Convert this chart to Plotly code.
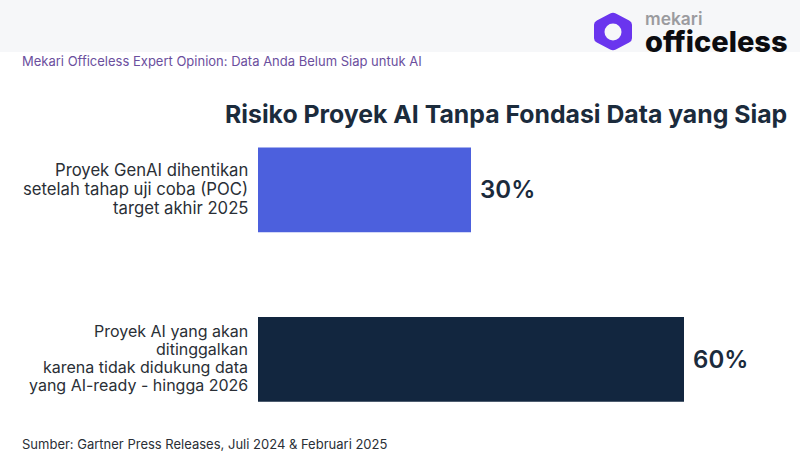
import plotly.graph_objects as go

category_lines = [
    ["Proyek GenAI dihentikan", "setelah tahap uji coba (POC)", "target akhir 2025"],
    ["Proyek AI yang akan", "ditinggalkan", "karena tidak didukung data", "yang AI-ready - hingga 2026"],
]
categories = [" ".join(lines) for lines in category_lines]
values = [30, 60]
value_labels = ["\u00a030%", "\u00a060%"]
bar_colors = ["#4c60dd", "#12263f"]

title_text = "Risiko Proyek AI Tanpa Fondasi Data yang Siap"
subtitle_text = "Mekari Officeless Expert Opinion: Data Anda Belum Siap untuk AI"
source_text = "Sumber: Gartner Press Releases, Juli 2024 & Februari 2025"

W = 800
H = 460
LEFT = 258
RIGHT = 45
TOP = 105
BOTTOM = 16
FONT = "Inter"


# page pixels to paper coordinates of the plot area
def px(x):
    return (x - LEFT) / (W - LEFT - RIGHT)


def py(y):
    return 1 - (y - TOP) / (H - TOP - BOTTOM)


fig = go.Figure()
fig.add_bar(
    x=values,
    y=categories,
    orientation="h",
    width=0.5,
    marker=dict(color=bar_colors, line=dict(width=0)),
    text=value_labels,
    textposition="outside",
    textfont=dict(family=FONT, size=24, color="#1b2b3c", weight=600),
    cliponaxis=False,
)

fig.update_layout(
    width=W,
    height=H,
    margin=dict(l=LEFT, r=RIGHT, t=TOP, b=BOTTOM),
    plot_bgcolor="white",
    paper_bgcolor="white",
    showlegend=False,
    font=dict(family=FONT, color="#1b2b3c"),
    xaxis=dict(range=[0, 70], visible=False, fixedrange=True),
    yaxis=dict(
        autorange="reversed",
        showline=False,
        showgrid=False,
        showticklabels=False,
        ticks="",
        fixedrange=True,
    ),
)

# grey band behind the logo
fig.add_shape(type="rect", xref="paper", yref="paper", layer="below",
              x0=px(0), x1=px(W), y0=py(52), y1=py(0), fillcolor="#f6f7f9", line_width=0)

# logo mark, corners rounded with Q curves
hexagon = [(613, 12), (632, 22), (632, 41), (613, 51), (594, 41), (594, 22)]
path = ""
for i, (a, b) in enumerate(hexagon):
    pa, pb = hexagon[i - 1]
    na, nb = hexagon[(i + 1) % 6]
    s = (a + (pa - a) * 0.15, b + (pb - b) * 0.15)
    e = (a + (na - a) * 0.15, b + (nb - b) * 0.15)
    path += ("M " if i == 0 else "L ") + f"{px(s[0])} {py(s[1])} "
    path += f"Q {px(a)} {py(b)} {px(e[0])} {py(e[1])} "
path += "Z"
fig.add_shape(type="path", xref="paper", yref="paper", path=path,
              fillcolor="#6a35ee", line_width=0)
fig.add_shape(type="circle", xref="paper", yref="paper",
              x0=px(604.5), x1=px(621.5), y0=py(40.5), y1=py(23.5),
              fillcolor="#f6f7f9", line_width=0)


def page_text(text, x, y, size, color, weight=400, anchor="left"):
    fig.add_annotation(text=text, xref="paper", yref="paper", x=px(x), y=py(y),
                       xanchor=anchor, yanchor="middle", showarrow=False,
                       font=dict(family=FONT, size=size, color=color, weight=weight))


page_text("mekari", 643, 19, 17.4, "#9b9b9f", 600)
page_text("officeless", 643, 41, 29, "#0c0c10", 800)
page_text(subtitle_text, 20, 61, 13, "#6b4f9e")
page_text(title_text, 789, 114, 24.8, "#1b2b3c", 700, "right")
page_text(source_text, 20, 444, 13, "#2a2f36")

# category labels, one annotation per line for the tight line spacing
label_sizes = [16.7, 16]
label_steps = [19.2, 18.1]
for cat, lines, size, step in zip(categories, category_lines, label_sizes, label_steps):
    for i, line in enumerate(lines):
        fig.add_annotation(text=line, xref="paper", yref="y", x=0, y=cat,
                           xanchor="right", yanchor="middle", xshift=-8,
                           yshift=((len(lines) - 1) / 2 - i) * step + 1,
                           showarrow=False,
                           font=dict(family=FONT, size=size, color="#2a2f36"))

fig.write_html("out.html", config=dict(displayModeBar=False),
               post_script="document.body.style.margin='0';")
